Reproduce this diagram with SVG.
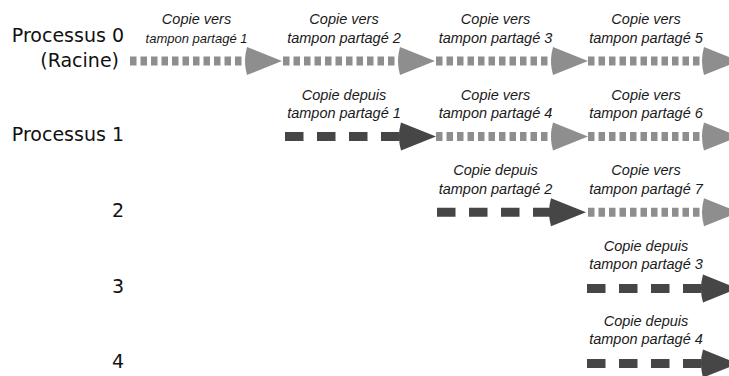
<svg xmlns="http://www.w3.org/2000/svg" xmlns:xlink="http://www.w3.org/1999/xlink" width="729" height="376" viewBox="0 0 729 376">
  <style>
    .proc { font-family: "DejaVu Sans", sans-serif; font-size: 19px; fill: #111; text-anchor: end; }
    .lbl { font-family: "Liberation Sans", Arial, sans-serif; font-style: italic; font-size: 14.5px; fill: #1a1a1a; text-anchor: middle; }
    .small { font-size: 13px; }
    .send { stroke: #8e8e8e; stroke-width: 9; stroke-dasharray: 6.5 4; fill: none; }
    .recv { stroke: #464646; stroke-width: 9; stroke-dasharray: 18.5 13.5; fill: none; }
    .headL { fill: #8e8e8e; }
    .headD { fill: #464646; }
  </style>
  <defs>
    <!-- arrowhead, back edge centred on the origin, tip at x=35 -->
    <path id="head" d="M0,-14 Q-4,0 0,14 L35,0 Z"/>
  </defs>

  <!-- process names -->
  <g id="proc0">
    <text class="proc" x="124" y="42">Processus 0</text>
    <text class="proc" x="119" y="67">(Racine)</text>
  </g>
  <g id="proc1"><text class="proc" x="124" y="141">Processus 1</text></g>
  <g id="proc2"><text class="proc" x="124" y="217">2</text></g>
  <g id="proc3"><text class="proc" x="124" y="293">3</text></g>
  <g id="proc4"><text class="proc" x="124" y="368">4</text></g>

  <!-- copy steps: send = light dotted, receive = dark dashed -->
  <g id="connectors">
    <!-- row 0 -->
    <line class="send" x1="130" y1="61" x2="248" y2="61"/>
    <use xlink:href="#head" class="headL" transform="translate(247,61)"/>
    <line class="send" x1="283" y1="61" x2="401" y2="61"/>
    <use xlink:href="#head" class="headL" transform="translate(400,61)"/>
    <line class="send" x1="436" y1="61" x2="554" y2="61"/>
    <use xlink:href="#head" class="headL" transform="translate(553,61)"/>
    <line class="send" x1="588" y1="61" x2="706" y2="61"/>
    <use xlink:href="#head" class="headL" transform="translate(704,61)"/>

    <!-- row 1 -->
    <line class="recv" x1="285" y1="136.6" x2="403" y2="136.6"/>
    <use xlink:href="#head" class="headD" transform="translate(401,136.6)"/>
    <line class="send" x1="436" y1="136.6" x2="554" y2="136.6"/>
    <use xlink:href="#head" class="headL" transform="translate(553,136.6)"/>
    <line class="send" x1="588" y1="136.6" x2="706" y2="136.6"/>
    <use xlink:href="#head" class="headL" transform="translate(704,136.6)"/>

    <!-- row 2 -->
    <line class="recv" x1="437" y1="212.2" x2="553" y2="212.2"/>
    <use xlink:href="#head" class="headD" transform="translate(551,212.2)"/>
    <line class="send" x1="588" y1="212.2" x2="706" y2="212.2"/>
    <use xlink:href="#head" class="headL" transform="translate(704,212.2)"/>

    <!-- row 3 -->
    <line class="recv" x1="587" y1="288.5" x2="705" y2="288.5"/>
    <use xlink:href="#head" class="headD" transform="translate(703,288.5)"/>

    <!-- row 4 -->
    <line class="recv" x1="587" y1="363.6" x2="705" y2="363.6"/>
    <use xlink:href="#head" class="headD" transform="translate(703,363.6)"/>
  </g>

  <!-- step captions -->
  <g id="step-r0-1"><text class="lbl" x="196.5" y="24">Copie vers</text><text class="lbl small" x="196.5" y="42.5">tampon partagé 1</text></g>
  <g id="step-r0-2"><text class="lbl" x="344" y="24">Copie vers</text><text class="lbl" x="344" y="42.5">tampon partagé 2</text></g>
  <g id="step-r0-3"><text class="lbl" x="495.5" y="24">Copie vers</text><text class="lbl" x="495.5" y="42.5">tampon partagé 3</text></g>
  <g id="step-r0-4"><text class="lbl" x="646" y="24">Copie vers</text><text class="lbl" x="646" y="42.5">tampon partagé 5</text></g>

  <g id="step-r1-2"><text class="lbl" x="344" y="99.6">Copie depuis</text><text class="lbl" x="344" y="118">tampon partagé 1</text></g>
  <g id="step-r1-3"><text class="lbl" x="495.5" y="99.6">Copie vers</text><text class="lbl" x="495.5" y="118">tampon partagé 4</text></g>
  <g id="step-r1-4"><text class="lbl" x="646" y="99.6">Copie vers</text><text class="lbl" x="646" y="118">tampon partagé 6</text></g>

  <g id="step-r2-3"><text class="lbl" x="495.5" y="175.2">Copie depuis</text><text class="lbl" x="495.5" y="193.6">tampon partagé 2</text></g>
  <g id="step-r2-4"><text class="lbl" x="646" y="175.2">Copie vers</text><text class="lbl" x="646" y="193.6">tampon partagé 7</text></g>

  <g id="step-r3-4"><text class="lbl" x="646" y="250.5">Copie depuis</text><text class="lbl" x="646" y="268.8">tampon partagé 3</text></g>

  <g id="step-r4-4"><text class="lbl" x="646" y="326">Copie depuis</text><text class="lbl" x="646" y="344.4">tampon partagé 4</text></g>
</svg>
